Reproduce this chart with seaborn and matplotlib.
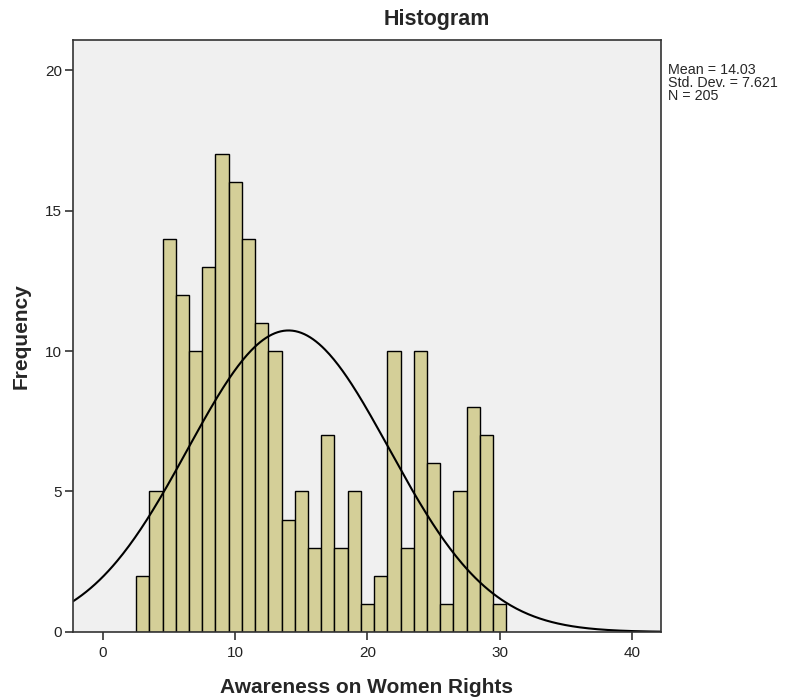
import numpy as np
import pandas as pd
import matplotlib as mpl
mpl.use("Agg")
import matplotlib.pyplot as plt
import seaborn as sns

# bin centres (width 1) and the frequency of each bin
scores = list(range(3, 31))
counts = [2, 5, 14, 12, 10, 13, 17, 16, 14, 11, 10, 4, 5, 3,
          7, 3, 5, 1, 2, 10, 3, 10, 6, 1, 5, 8, 7, 1]

mean = 14.03
std_dev = 7.621
n_total = 205

xticks = [0, 10, 20, 30, 40]
yticks = [0, 5, 10, 15, 20]

sns.set_style("white")
plt.rcParams['font.family'] = ['Liberation Sans', 'DejaVu Sans']

df = pd.DataFrame({"score": scores, "count": counts})

fig = plt.figure(figsize=(7.9, 6.99), dpi=100)
ax = fig.add_axes([0.0924, 0.0959, 0.7443, 0.8469])
ax.set_facecolor("#F0F0F0")

sns.histplot(data=df, x="score", weights="count", discrete=True,
             color="#D4CF98", edgecolor="black", linewidth=1.0,
             alpha=1, ax=ax)

# fitted normal curve (scaled to counts, bin width 1)
xs = np.linspace(-2.27, 42.2, 400)
ys = n_total / (std_dev * np.sqrt(2 * np.pi)) * np.exp(-0.5 * ((xs - mean) / std_dev) ** 2)
sns.lineplot(x=xs, y=ys, color="black", linewidth=1.5, ax=ax)

ax.set_xlim(-2.27, 42.2)
ax.set_ylim(0, 21.07)
ax.set_xticks(xticks)
ax.set_yticks(yticks)
ax.tick_params(axis="both", direction="out", length=6, width=1.2,
               color="#333333", labelsize=11, labelcolor="#222222",
               bottom=True, left=True, pad=2)
ax.tick_params(axis="x", pad=4)
for side in ax.spines.values():
    side.set_visible(True)
    side.set_color("#333333")
    side.set_linewidth(1.2)

ax.set_xlabel("Awareness on Women Rights", fontsize=15, fontweight="bold", labelpad=13)
ax.set_ylabel("Frequency", fontsize=15, fontweight="bold", labelpad=10)

fig.text(0.553, 0.972, "Histogram", ha="center", va="center",
         fontsize=15.5, fontweight="bold")
fig.text(0.846, 0.910, f"Mean = {mean}\nStd. Dev. = {std_dev}\nN = {n_total}",
         ha="left", va="top", fontsize=10.3, linespacing=0.92)

fig.savefig("out.png", dpi=100)
